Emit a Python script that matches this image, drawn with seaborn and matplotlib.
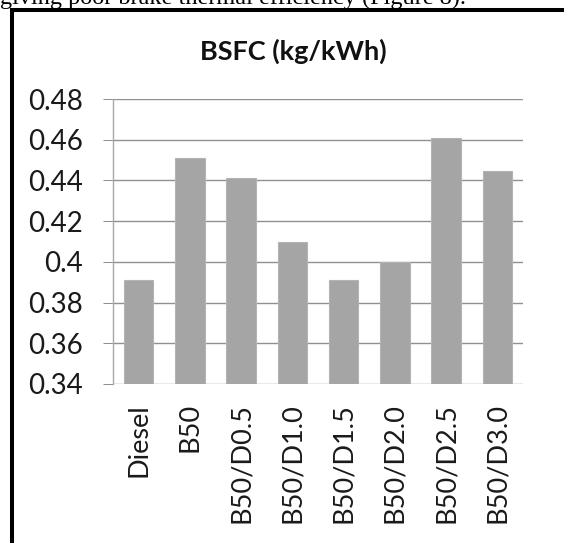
import matplotlib
matplotlib.use('Agg')
import matplotlib.pyplot as plt
import seaborn as sns
import pandas as pd
from matplotlib.lines import Line2D
from matplotlib.ticker import FixedLocator

categories = ["Diesel", "B50", "B50/D0.5", "B50/D1.0", "B50/D1.5", "B50/D2.0", "B50/D2.5", "B50/D3.0"]
bsfc = [0.391, 0.451, 0.441, 0.410, 0.391, 0.400, 0.461, 0.4445]
y_ticks = [0.34, 0.36, 0.38, 0.40, 0.42, 0.44, 0.46, 0.48]
y_tick_labels = ["0.34", "0.36", "0.38", "0.4", "0.42", "0.44", "0.46", "0.48"]
title = "BSFC (kg/kWh)"
caption = "giving poor brake thermal efficiency (Figure 8)."

sns.set_theme(style='white')
plt.rcParams['font.family'] = ['Lato', 'DejaVu Sans']

W, H = 564, 543
fig = plt.figure(figsize=(W / 100, H / 100), dpi=100)
ax = fig.add_axes([113 / W, 159 / H, 410 / W, 285 / H])

df = pd.DataFrame({'fuel': categories, 'bsfc': bsfc})
sns.barplot(data=df, x='fuel', y='bsfc', color='#a5a5a5', saturation=1,
            width=0.58, ax=ax, edgecolor='#b4b4b4', linewidth=0.8)

ax.set_ylim(0.34, 0.48)
ax.set_xlim(-0.5, 7.5)
ax.yaxis.set_major_locator(FixedLocator(y_ticks))
ax.set_yticklabels(y_tick_labels)
ax.grid(axis='y', color='#909090', linewidth=1)
ax.grid(axis='x', visible=False)
ax.set_axisbelow(True)
for s in ['top', 'right', 'bottom']:
    ax.spines[s].set_visible(False)
ax.spines['left'].set_color('#a8a8a8')
ax.spines['left'].set_linewidth(1)
ax.tick_params(axis='y', left=True, length=7.2, width=0.72, color='#909090', pad=14.4,
               labelsize=20, labelcolor='#1a1a1a')
ax.tick_params(axis='x', length=0, pad=13.7, labelsize=19.5, labelrotation=90,
               labelcolor='#1a1a1a')
ax.set_xlabel('')
ax.set_ylabel('')

fig.text(293 / W, 1 - 51 / H, title, ha='center', va='center', fontsize=19.5,
         fontweight='bold', color='#111111')

fig.text(0, 1 - 4 / H, caption, ha='left', va='baseline', fontsize=17.5,
         family=['Liberation Serif'], color='black')

fig.add_artist(Line2D([11.5 / W, 11.5 / W], [0, 1 - 8 / H], transform=fig.transFigure,
                      color='black', lw=2.9, solid_capstyle='butt'))
fig.add_artist(Line2D([9.5 / W, 1], [1 - 10 / H, 1 - 10 / H], transform=fig.transFigure,
                      color='black', lw=2.9, solid_capstyle='butt'))

fig.savefig('out.png', dpi=100)
